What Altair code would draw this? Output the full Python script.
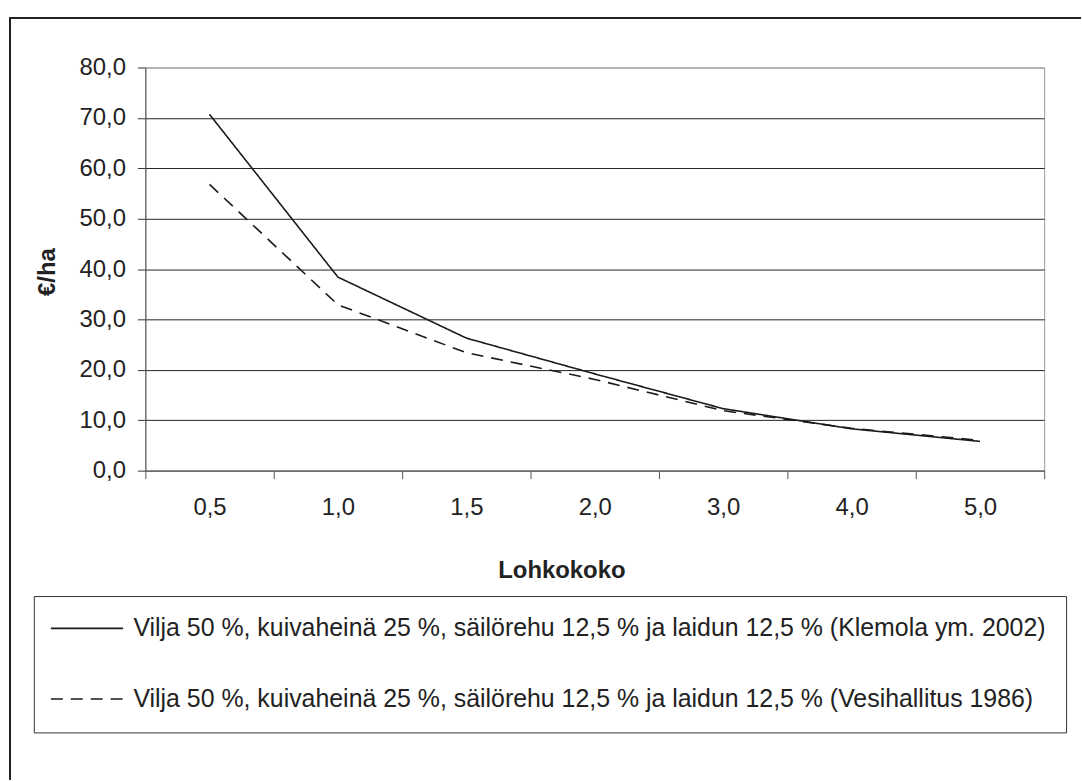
import altair as alt
import pandas as pd

categories = ["0,5", "1,0", "1,5", "2,0", "3,0", "4,0", "5,0"]
klemola = [70.7, 38.4, 26.3, 19.2, 12.3, 8.3, 5.8]
vesihallitus = [56.8, 32.9, 23.4, 18.1, 11.9, 8.4, 6.0]
series_names = [
    "Vilja 50 %, kuivaheinä 25 %, säilörehu 12,5 % ja laidun 12,5 % (Klemola ym. 2002)",
    "Vilja 50 %, kuivaheinä 25 %, säilörehu 12,5 % ja laidun 12,5 % (Vesihallitus 1986)",
]

rows = []
for c, v in zip(categories, klemola):
    rows.append({"lohko": c, "value": v, "series": series_names[0]})
for c, v in zip(categories, vesihallitus):
    rows.append({"lohko": c, "value": v, "series": series_names[1]})
df = pd.DataFrame(rows)

FONT = "Liberation Sans"
TXT = "#222222"
W, H = 903, 405
TICK_FS = 24

lines = alt.Chart(df).mark_line(color="#1a1a1a", strokeWidth=1.6).encode(
    x=alt.X(
        "lohko:N",
        sort=categories,
        scale=alt.Scale(paddingInner=0, paddingOuter=0),
        axis=alt.Axis(
            title="Lohkokoko",
            labelAngle=0,
            tickBand="extent",
            tickSize=8,
            tickColor="#555555",
            domainColor="#777777",
            labelPadding=17,
            labelFontSize=TICK_FS,
            labelColor=TXT,
            labelFont=FONT,
            titleFont=FONT,
            titleFontSize=TICK_FS,
            titleFontWeight="bold",
            titleColor=TXT,
            titleX=418,
            titleY=100,
            titleBaseline="middle",
            titleAnchor="start",
            titleAlign="center",
            grid=False,
        ),
    ),
    y=alt.Y(
        "value:Q",
        scale=alt.Scale(domain=[0, 80], nice=False),
        axis=alt.Axis(
            title="€/ha",
            values=[0, 10, 20, 30, 40, 50, 60, 70, 80],
            labelExpr="replace(format(datum.value, '.1f'), '.', ',')",
            tickSize=8,
            tickColor="#333333",
            domainColor="#555555",
            labelPadding=12,
            labelFontSize=TICK_FS,
            labelColor=TXT,
            labelFont=FONT,
            titleFont=FONT,
            titleFontSize=TICK_FS,
            titleFontWeight="bold",
            titleColor=TXT,
            titleAngle=270,
            titleX=-98,
            titleY=205,
            titleAlign="center",
            titleBaseline="middle",
            grid=True,
            gridColor={"condition": {"test": "datum.value == 80", "value": "#999999"}, "value": "#222222"},
            gridWidth=1,
        ),
    ),
    strokeDash=alt.StrokeDash(
        "series:N",
        scale=alt.Scale(domain=series_names, range=[[1, 0], [12, 8]]),
        legend=alt.Legend(
            title=None,
            orient="none",
            legendX=-112,
            legendY=531,
            direction="vertical",
            labelFont=FONT,
            labelFontSize=25,
            labelColor=TXT,
            labelLimit=2000,
            labelOffset=55,
            symbolType="M-1.4,0H5.2",
            symbolSize=484,
            symbolStrokeWidth=1.6,
            symbolStrokeColor="#1a1a1a",
            strokeColor="#333333",
            padding=20,
            rowPadding=45,
            fillColor="white",
        ),
    ),
)

top_border = alt.Chart(df).mark_rule(color="#222222", strokeWidth=1.2).encode(
    x=alt.value(-136), x2=alt.value(940), y=alt.value(-50)
)
left_border = alt.Chart(df).mark_rule(color="#222222", strokeWidth=1.2).encode(
    x=alt.value(-136), y=alt.value(-50), y2=alt.value(715)
)

chart = (
    alt.layer(top_border, left_border, lines)
    .properties(
        width=W,
        height=H,
        padding={"left": 9, "top": 15, "right": 0, "bottom": 0},
        background="white",
    )
    .configure_view(stroke="#999999", strokeWidth=1)
)

chart.save("out.html", embed_options={"renderer": "svg", "actions": False})
